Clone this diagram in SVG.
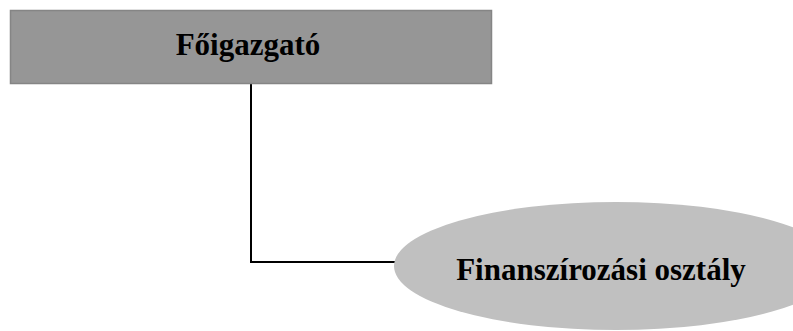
<svg xmlns="http://www.w3.org/2000/svg" width="793" height="331" viewBox="0 0 793 331">
<style>
.lbl{font-family:"Liberation Serif","Times New Roman",serif;font-weight:bold;font-size:31px;fill:#000;text-anchor:middle}
.conn{stroke:#000;stroke-width:2;fill:none}
</style>
<rect width="793" height="331" fill="#fff"/>
<g id="connectors">
<polyline class="conn" points="251,84 251,262 395,262"/>
</g>
<g id="node-foigazgato">
<rect x="10.5" y="10.5" width="481" height="73" fill="#969696" stroke="#858585" stroke-width="1.5"/>
<text class="lbl" x="248" y="55">Főigazgató</text>
</g>
<g id="node-finanszirozasi">
<ellipse cx="616" cy="266" rx="222" ry="64" fill="#c0c0c0"/>
<text class="lbl" x="601" y="280">Finanszírozási osztály</text>
</g>
</svg>
